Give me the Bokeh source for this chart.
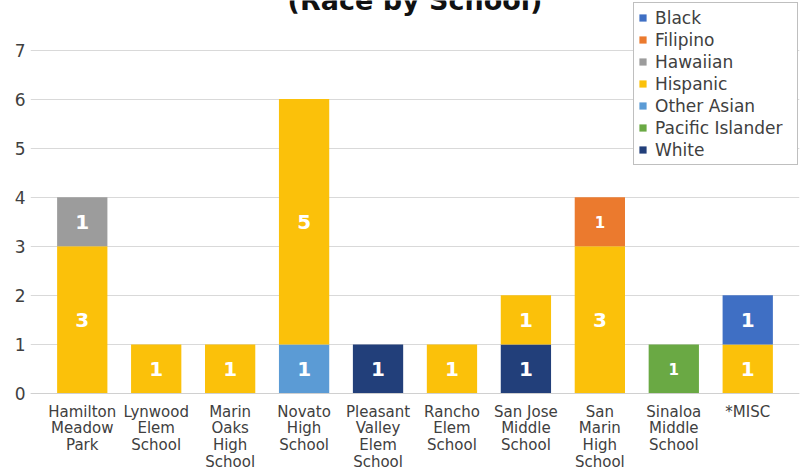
from bokeh.plotting import figure
from bokeh.models import (FactorRange, Range1d, Legend, LegendItem, ColumnDataSource, Span)
from bokeh.core.properties import value
from bokeh.embed import file_html
from bokeh.resources import INLINE

schools = ["Hamilton Meadow Park", "Lynwood Elem School", "Marin Oaks High School",
           "Novato High School", "Pleasant Valley Elem School", "Rancho Elem School",
           "San Jose Middle School", "San Marin High School", "Sinaloa Middle School", "*MISC"]
tick_labels = ["Hamilton\nMeadow\nPark", "Lynwood\nElem\nSchool", "Marin\nOaks\nHigh\nSchool",
               "Novato\nHigh\nSchool", "Pleasant\nValley\nElem\nSchool", "Rancho\nElem\nSchool",
               "San Jose\nMiddle\nSchool", "San\nMarin\nHigh\nSchool", "Sinaloa\nMiddle\nSchool", "*MISC"]
y_ticks = [0, 1, 2, 3, 4, 5, 6, 7]
title_text = "(Race by School)"

white            = [0, 0, 0, 0, 1, 0, 1, 0, 0, 0]
pacific_islander = [0, 0, 0, 0, 0, 0, 0, 0, 1, 0]
other_asian      = [0, 0, 0, 1, 0, 0, 0, 0, 0, 0]
hispanic         = [3, 1, 1, 5, 0, 1, 1, 3, 0, 1]
hawaiian         = [1, 0, 0, 0, 0, 0, 0, 0, 0, 0]
filipino         = [0, 0, 0, 0, 0, 0, 0, 1, 0, 0]
black            = [0, 0, 0, 0, 0, 0, 0, 0, 0, 1]

stack_order = ["White", "Pacific Islander", "Other Asian", "Hispanic", "Hawaiian", "Filipino", "Black"]
legend_order = ["Black", "Filipino", "Hawaiian", "Hispanic", "Other Asian", "Pacific Islander", "White"]
series = {"White": white, "Pacific Islander": pacific_islander, "Other Asian": other_asian,
          "Hispanic": hispanic, "Hawaiian": hawaiian, "Filipino": filipino, "Black": black}
colors = {"White": "#223f7a", "Pacific Islander": "#6aa944", "Other Asian": "#5b9bd5",
          "Hispanic": "#fbc10a", "Hawaiian": "#9c9c9c", "Filipino": "#eb7a2e", "Black": "#3f6fc4"}
small_labels = {("San Marin High School", "Filipino"), ("Sinaloa Middle School", "Pacific Islander")}

FONT = "DejaVu Sans"

data = {"school": schools}
data.update(series)
source = ColumnDataSource(data)

p = figure(x_range=FactorRange(*schools, range_padding=0.2, range_padding_units="absolute"),
           y_range=Range1d(-1.528, 8.009),
           width=802, height=468, output_backend="svg", toolbar_location=None,
           min_border_left=30, min_border_right=3, min_border_top=0, min_border_bottom=0,
           margin=0)
p.outline_line_color = None

rends = p.vbar_stack(stack_order, x="school", width=0.68, source=source,
                     color=[colors[s] for s in stack_order], line_color=None)
rmap = dict(zip(stack_order, rends))

# value labels
big = {"x": [], "y": [], "t": []}
small = {"x": [], "y": [], "t": []}
for i, sc in enumerate(schools):
    bottom = 0
    for s in stack_order:
        v = series[s][i]
        if v > 0:
            d = small if (sc, s) in small_labels else big
            d["x"].append(sc)
            d["y"].append(bottom + v / 2)
            d["t"].append(str(v))
        bottom += v
p.text(x="x", y="y", text="t", source=ColumnDataSource(big), text_color="white",
       text_font=value(FONT), text_font_style="bold", text_font_size="20px",
       text_align="center", text_baseline="middle")
p.text(x="x", y="y", text="t", source=ColumnDataSource(small), text_color="white",
       text_font=value(FONT), text_font_style="bold", text_font_size="15px",
       text_align="center", text_baseline="middle")

# y axis
p.yaxis.ticker = y_ticks
p.yaxis.axis_line_color = None
p.yaxis.major_tick_line_color = None
p.yaxis.minor_tick_line_color = None
p.yaxis.major_tick_out = 0
p.yaxis.major_tick_in = 0
p.yaxis.major_label_text_font = FONT
p.yaxis.major_label_text_font_size = "17px"
p.yaxis.major_label_text_color = "#404040"
p.yaxis.major_label_standoff = 5

# x axis: baseline + multi-line category labels drawn below zero
p.xaxis.visible = False
p.add_layout(Span(location=0, dimension="width", line_color="#d0d0d0", line_width=1))
lines = [t.split("\n") for t in tick_labels]
for k in range(max(len(l) for l in lines)):
    xs = [sc for sc, l in zip(schools, lines) if k < len(l)]
    ts = [l[k] for l in lines if k < len(l)]
    p.text(x=xs, y=[0] * len(xs), text=ts, text_font=value(FONT), text_font_size="15px",
           text_color="#404040", text_align="center", text_baseline="middle",
           y_offset=18 + 16.7 * k)

p.xgrid.grid_line_color = None
p.ygrid.grid_line_color = "#d9d9d9"

legend = Legend(items=[LegendItem(label=s, renderers=[rmap[s]]) for s in legend_order],
                location=(603, 303), border_line_color="#7f7f7f", padding=4, spacing=1,
                label_height=21, label_width=138, glyph_width=9, glyph_height=9,
                label_text_font=FONT, label_text_font_size="17px", label_text_color="#404040",
                label_standoff=8, margin=0, background_fill_alpha=1)
p.add_layout(legend)

# title (its upper part is cut off by the top edge, as in the reference)
p.text(x=[5.0], y=[8.0], text=[title_text], text_font=value(FONT),
       text_font_style="bold", text_font_size="27px", text_align="center",
       text_baseline="alphabetic", text_color="#111111")

open("out.html", "w").write(file_html(p, INLINE))
